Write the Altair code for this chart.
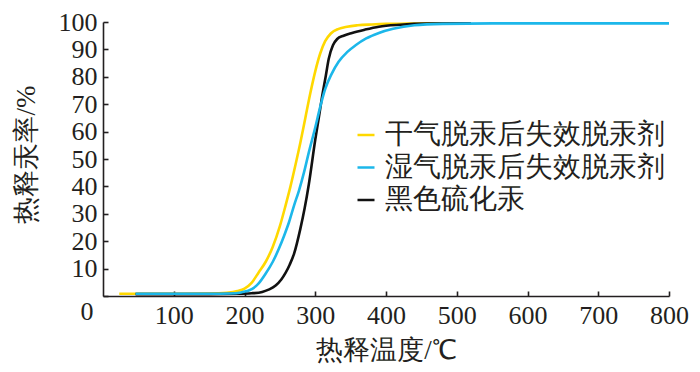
import altair as alt
import pandas as pd

series_names = ["干气脱汞后失效脱汞剂", "湿气脱汞后失效脱汞剂", "黑色硫化汞"]
series_colors = ["#FFD800", "#1CB7EA", "#111111"]

dry_x = [23, 50, 100, 150, 175, 190, 200, 210, 220, 230, 240, 250, 258, 265, 272, 279, 286, 293, 300, 307, 314, 322, 333, 345, 360, 380, 400, 430, 470, 520]
dry_y = [0.8, 0.8, 0.8, 0.9, 1.2, 1.8, 2.7, 4.8, 8.6, 12.5, 18, 25.5, 33, 40, 47.8, 56, 65, 74, 82, 88.5, 93, 95.8, 97.5, 98.3, 98.8, 99.1, 99.3, 99.4, 99.5, 99.5]

wet_x = [46, 100, 150, 180, 195, 211, 220, 230, 240, 249, 256, 263, 270, 277, 284, 291, 300, 307, 314, 323, 333, 345, 357, 372, 390, 410, 440, 480, 550, 650, 800]
wet_y = [0.8, 0.8, 0.8, 0.9, 1.3, 2.6, 4.6, 8.2, 12.5, 17.5, 22, 27, 33, 38.5, 45, 52.5, 61.5, 69, 75.5, 81, 85.5, 89, 91.5, 94, 96, 97.5, 98.8, 99.3, 99.5, 99.5, 99.5]

blk_x = [46, 100, 150, 190, 210, 225, 235, 244, 252, 258, 264, 270, 279, 285, 291, 300, 305, 310, 315, 319, 325, 331, 340, 352, 370, 390, 420, 460, 520]
blk_y = [0.7, 0.7, 0.7, 0.8, 1.0, 1.5, 2.4, 3.8, 6, 8.4, 11.5, 15.4, 24.6, 32, 40.9, 57, 65, 73.3, 80.5, 86.5, 91.5, 93.8, 95, 96, 97.2, 98.3, 99, 99.4, 99.5]

x_ticks = [100, 200, 300, 400, 500, 600, 700, 800]
y_ticks = [0, 10, 20, 30, 40, 50, 60, 70, 80, 90, 100]

rows = []
for name, xs, ys in [(series_names[0], dry_x, dry_y), (series_names[1], wet_x, wet_y), (series_names[2], blk_x, blk_y)]:
    for i, (a, b) in enumerate(zip(xs, ys)):
        rows.append({"series": name, "t": a, "r": b, "i": i})
df = pd.DataFrame(rows)

NUM_FONT = "Times New Roman, Liberation Serif, serif"
TXT_FONT = "Times New Roman, Liberation Serif, serif"
INK = "#231f20"
W, H = 566, 274

xscale = alt.Scale(domain=[0, 800], nice=False, zero=True)
yscale = alt.Scale(domain=[0, 100], nice=False, zero=True)
color = alt.Color(
    "series:N",
    scale=alt.Scale(domain=series_names, range=series_colors),
    legend=alt.Legend(
        title=None, orient="none", legendX=249, legendY=99,
        symbolType="stroke", symbolSize=289, symbolStrokeWidth=2.5,
        labelFontSize=28, labelFont=TXT_FONT, labelColor=INK, labelOffset=5,
        rowPadding=4.5, padding=0, labelLimit=0,
    ),
)

main_x_axis = alt.Axis(
    orient="bottom", values=x_ticks, ticks=False, grid=False, labelFlush=False,
    domainColor=INK, domainWidth=1.6,
    labelFont=NUM_FONT, labelFontSize=26, labelColor=INK, labelPadding=6,
    title="热释温度/℃", titleFont=TXT_FONT, titleFontSize=27, titleFontWeight="normal",
    titleColor=INK, titleY=54, titleBaseline="middle",
)
main_y_axis = alt.Axis(
    orient="left", values=y_ticks, ticks=False, grid=False, labelFlush=False,
    domainColor=INK, domainWidth=1.6,
    labelFont=NUM_FONT, labelFontSize=26, labelColor=INK,
    labelBaseline={"condition": {"test": "datum.value == 0", "value": "top"}, "value": "middle"},
    labelPadding={"condition": {"test": "datum.value == 0", "value": 10}, "value": 6},
    labelOffset={"condition": {"test": "datum.value == 0", "value": 2}, "value": 0},
    title="热释汞率/%", titleFont=TXT_FONT, titleFontSize=27, titleFontWeight="normal",
    titleColor=INK, titleX=-77, titleY=132, titleBaseline="middle", titleAngle=-90,
)


def line_layer(name, first=False):
    xa = main_x_axis if first else None
    ya = main_y_axis if first else None
    return (
        alt.Chart(df)
        .transform_filter(alt.datum.series == name)
        .mark_line(strokeWidth=2.6, interpolate="monotone")
        .encode(
            x=alt.X("t:Q", scale=xscale, axis=xa),
            y=alt.Y("r:Q", scale=yscale, axis=ya),
            color=color,
            order="i:Q",
        )
    )


tick_layer = (
    alt.Chart(df)
    .mark_point(opacity=0)
    .encode(
        x=alt.X("t:Q", scale=xscale, axis=alt.Axis(
            orient="top", offset=-H, values=x_ticks, labels=False, domain=False,
            ticks=True, tickSize=5, tickWidth=1.6, tickColor=INK, grid=False, title=None)),
        y=alt.Y("r:Q", scale=yscale, axis=alt.Axis(
            orient="right", offset=-W, values=y_ticks, labels=False, domain=False,
            ticks=True, tickSize=5, tickWidth=1.6, tickColor=INK, grid=False, title=None)),
    )
)

chart = (
    alt.layer(
        line_layer(series_names[0], first=True),
        line_layer(series_names[2]),
        line_layer(series_names[1]),
        tick_layer,
    )
    .resolve_axis(x="independent", y="independent")
    .properties(
        width=W, height=H,
        autosize=alt.AutoSizeParams(type="none"),
        padding={"left": 95, "top": 14, "right": 23, "bottom": 68},
        background="white",
    )
    .configure_view(stroke=None)
)

chart.save("out.html", embed_options={"renderer": "svg", "actions": False})
